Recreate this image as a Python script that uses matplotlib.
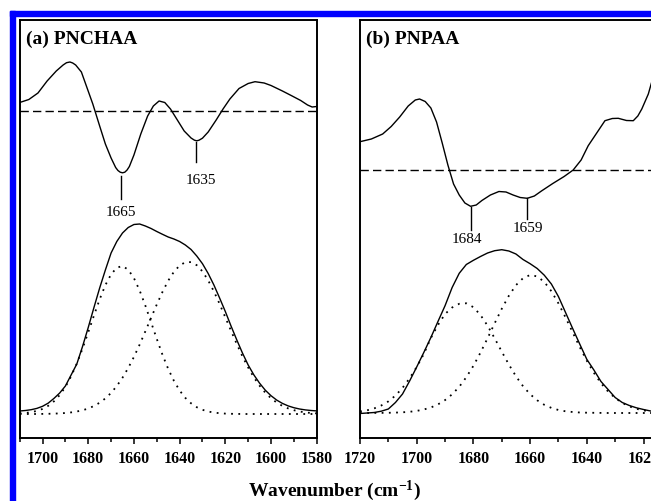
import matplotlib
matplotlib.use("Agg")
import matplotlib.pyplot as plt
from matplotlib.patches import Rectangle
from matplotlib.ticker import MultipleLocator

plt.rcParams['font.family'] = ['Liberation Serif', 'DejaVu Serif']
plt.rcParams['font.weight'] = 'bold'
plt.rcParams['mathtext.fontset'] = 'custom'
plt.rcParams['mathtext.rm'] = 'Liberation Serif:bold'
plt.rcParams['mathtext.it'] = 'Liberation Serif:bold'
plt.rcParams['mathtext.bf'] = 'Liberation Serif:bold'

# ---------------- Panel (a) PNCHAA ----------------
wn_a = [1710, 1707.5, 1705, 1702.5, 1700, 1697.5, 1695, 1692.5, 1690, 1687.5,
        1685, 1682.5, 1680, 1677.5, 1675, 1672.5, 1670, 1667.5, 1665, 1662.5,
        1660, 1657.5, 1655, 1652.5, 1650, 1647.5, 1645, 1642.5, 1640, 1637.5,
        1635, 1632.5, 1630, 1627.5, 1625, 1622.5, 1620, 1617.5, 1615, 1612.5,
        1610, 1607.5, 1605, 1602.5, 1600, 1597.5, 1595, 1592.5, 1590, 1587.5,
        1585, 1582.5, 1580]
a_fit = [27.0, 27.5, 28.3, 29.6, 31.7, 34.9, 39.6, 45.0, 52.0, 63.0,
         74.0, 91.5, 110.5, 130.5, 150.0, 168.0, 185.0, 196.5, 205.0, 210.5,
         213.5, 214.0, 212.0, 209.5, 206.5, 203.7, 201.0, 199.0, 196.5, 193.0,
         188.5, 182.0, 174.3, 164.5, 153.0, 140.0, 126.5, 112.0, 98.2, 85.0,
         73.0, 63.1, 54.8, 47.8, 42.3, 37.9, 34.6, 32.1, 30.3, 29.0,
         28.1, 27.5, 27.1]
a_band1 = [24.5, 25.0, 25.8, 27.1, 29.1, 32.2, 36.7, 42.9, 51.1, 61.7,
           74.5, 89.4, 105.7, 122.5, 138.7, 152.9, 163.7, 170.3, 172.0, 168.3,
           159.9, 147.5, 132.4, 115.8, 99.1, 83.2, 69.1, 57.2, 47.5, 40.1,
           34.7, 30.8, 28.2, 26.5, 25.4, 24.8, 24.4, 24.2, 24.1, 24.0,
           24.0, 24.0, 24.0, 24.0, 24.0, 24.0, 24.0, 24.0, 24.0, 24.0,
           24.0, 24.0, 24.0]
a_band2 = [24.0, 24.0, 24.0, 24.0, 24.1, 24.2, 24.4, 24.6, 25.0, 25.6,
           26.5, 27.7, 29.5, 32.0, 35.3, 39.6, 45.1, 52.0, 60.3, 70.0,
           81.1, 93.4, 106.7, 120.1, 133.5, 146.1, 157.3, 166.2, 172.5, 175.8,
           175.9, 172.8, 166.6, 157.6, 146.6, 134.1, 120.7, 107.2, 94.1, 81.6,
           70.5, 60.6, 52.3, 45.3, 39.8, 35.4, 32.1, 29.6, 27.8, 26.5,
           25.6, 25.0, 24.6]

wn_a_d = [1710, 1706, 1702, 1698, 1694, 1691, 1689.5, 1688, 1686.8, 1685.5,
          1683, 1680.5, 1678, 1675, 1672.5, 1670, 1668, 1667, 1666, 1665,
          1664, 1663, 1662, 1660, 1657, 1654, 1651.5, 1649, 1646.5, 1644,
          1641, 1638, 1635, 1633.5, 1632.5, 1631.5, 1630, 1627.5, 1624, 1621,
          1618, 1614, 1610, 1607, 1603, 1600, 1595, 1591, 1587, 1584,
          1582, 1580]
a_deriv = [335.5, 338.5, 345, 357, 367, 373, 375.3, 376, 375, 373,
           366, 350, 334, 312, 294, 280, 270.5, 267.5, 265.8, 265.2,
           265.8, 268, 271.5, 283, 304, 322, 332, 337, 335.5, 329,
           318, 307, 300, 297.8, 297.2, 297.8, 299.8, 306, 318, 329,
           339, 349.5, 354.5, 356.3, 355, 352.5, 347, 342.3, 337.5, 333,
           331, 331.5]
a_zero = 327
a_mark_x = [1665.7, 1632.8]
a_mark_top = [262, 296.3]
a_mark_bot = [239, 276.3]
a_lbl = ['1665', '1635']
a_lbl_x = [1665.8, 1630.8]
a_lbl_y = [226.5, 258]

# ---------------- Panel (b) PNPAA ----------------
wn_b = [1720, 1717.5, 1715, 1712.5, 1710, 1707.5, 1705, 1702.5, 1700, 1697.5,
        1695, 1692.5, 1690, 1687.5, 1685, 1682.5, 1680, 1677.5, 1675, 1672.5,
        1670, 1667.5, 1665, 1662.5, 1660, 1657.5, 1655, 1652.5, 1650, 1647.5,
        1645, 1642.5, 1640, 1637.5, 1635, 1632.5, 1630, 1627.5, 1625, 1622.5,
        1620, 1617.5, 1615, 1612.5, 1610, 1607.5, 1605, 1602.5, 1600]
b_fit = [24.5, 25.0, 25.5, 26.8, 29.0, 35.5, 44.0, 57.0, 71.0, 85.5,
         100.5, 116.5, 132.3, 150.5, 164.7, 173.5, 177.7, 181.5, 185.0, 187.3,
         188.3, 187.0, 184.0, 178.5, 174.3, 169.5, 162.8, 154.0, 141.4, 125.5,
         109.6, 94.0, 78.7, 68.0, 56.5, 48.5, 40.5, 35.5, 32.5, 30.2,
         28.5, 27.0, 26.2, 25.6, 25.3, 25.2, 25.1, 25.0, 25.0]
b_band1 = [26.6, 27.7, 29.6, 32.5, 36.6, 42.4, 50.1, 59.7, 71.0, 84.0,
           100.0, 113.0, 124.0, 130.5, 134.2, 134.7, 130.8, 123.0, 112.3, 99.7,
           86.4, 73.5, 61.8, 51.8, 43.8, 37.7, 33.2, 30.1, 28.0, 26.7,
           26.0, 25.5, 25.3, 25.2, 25.1, 25.0, 25.0, 25.0, 25.0, 25.0,
           25.0, 25.0, 25.0, 25.0, 25.0, 25.0, 25.0, 25.0, 25.0]
b_band2 = [25.0, 25.0, 25.1, 25.1, 25.2, 25.4, 25.7, 26.2, 27.1, 28.5,
           30.5, 33.6, 37.9, 43.7, 51.2, 60.8, 72.2, 85.4, 99.8, 114.7,
           129.2, 142.2, 152.8, 159.8, 163.0, 161.6, 156.1, 146.8, 134.6, 120.6,
           105.7, 91.0, 77.3, 65.2, 54.8, 46.5, 40.0, 35.1, 31.6, 29.2,
           27.6, 26.5, 25.9, 25.5, 25.3, 25.2, 25.1, 25.0, 25.0]

wn_b_d = [1720, 1716, 1712, 1709, 1706, 1703, 1700.5, 1699, 1697, 1695,
          1693, 1691, 1689, 1687, 1685, 1683, 1681, 1679, 1677, 1674,
          1671, 1668.5, 1666, 1663.5, 1661, 1658.5, 1656, 1652, 1648, 1644.8,
          1642, 1639.5, 1636.5, 1633.6, 1631, 1628.9, 1626, 1623.6, 1622, 1620.6,
          1618.3, 1616.5, 1615]
b_deriv = [296.3, 299, 304, 311.5, 321, 332, 338, 339, 336.5, 330,
           316, 295, 273, 254, 243, 235, 231.7, 233, 237.5, 243,
           246.5, 246, 243, 240.5, 239.7, 242, 247, 254.5, 261.5, 268,
           278, 292.3, 305, 317.3, 319.5, 319.7, 317.5, 317.3, 322, 329,
           344, 362, 380]
b_zero = 268
b_mark_x = [1681.0, 1661.2]
b_mark_top = [231, 239.7]
b_mark_bot = [208, 219]
b_lbl = ['1684', '1659']
b_lbl_x = [1682.4, 1660.9]
b_lbl_y = [199.5, 211]

W, H = 651, 502
fig = plt.figure(figsize=(W / 100, H / 100), dpi=100)

# blue frame fragments
blue = '#0000ff'
fig.patches.append(Rectangle((10 / W, (H - 16.7) / H), 1 - 10 / W, 4.4 / H,
                             transform=fig.transFigure, color=blue, zorder=0))
fig.patches.append(Rectangle((10 / W, 0), 5 / W, (H - 12.3) / H,
                             transform=fig.transFigure, color=blue, zorder=0))

bottom = (H - 439) / H
height = 418 / H
ax_a = fig.add_axes([19.7 / W, bottom, 297 / W, height])
ax_b = fig.add_axes([360 / W, bottom, 340.2 / W, height])

dot = (0, (1.0, 3.0))
dash = (0, (6.0, 3.0))


def draw(ax, wn, fit, b1, b2, wnd, der, zero, xlim, mx, mtop, mbot, lbl, lx, ly, title):
    ax.plot(wn, fit, color='black', lw=1.0, solid_joinstyle='round')
    ax.plot(wn, b1, color='black', lw=1.3, linestyle=dot)
    ax.plot(wn, b2, color='black', lw=1.3, linestyle=dot)
    ax.plot(wnd, der, color='black', lw=1.0, solid_joinstyle='round')
    ax.plot(xlim, [zero, zero], color='black', lw=1.0, linestyle=dash)
    for x, t, b in zip(mx, mtop, mbot):
        ax.plot([x, x], [t, b], color='black', lw=1.0)
    for s, x, y in zip(lbl, lx, ly):
        ax.text(x, y, s, ha='center', va='center', fontsize=11, fontweight='normal')
    ax.set_xlim(*xlim)
    ax.set_ylim(0, 418)
    ax.set_yticks([])
    ax.xaxis.set_major_locator(MultipleLocator(20))
    ax.xaxis.set_minor_locator(MultipleLocator(10))
    ax.tick_params(axis='x', which='major', direction='out', length=4.5, width=1.1,
                   labelsize=11.5, pad=4)
    ax.tick_params(axis='x', which='minor', direction='out', length=3, width=1.1)
    for sp in ax.spines.values():
        sp.set_linewidth(1.4)
    ax.annotate(title, xy=(0, 1), xycoords='axes fraction', xytext=(6, -22.5),
                textcoords='offset pixels', ha='left', va='baseline',
                fontsize=14, fontweight='bold')


draw(ax_a, wn_a, a_fit, a_band1, a_band2, wn_a_d, a_deriv, a_zero, (1710, 1580),
     a_mark_x, a_mark_top, a_mark_bot, a_lbl, a_lbl_x, a_lbl_y, '(a) PNCHAA')
draw(ax_b, wn_b, b_fit, b_band1, b_band2, wn_b_d, b_deriv, b_zero, (1720, 1600),
     b_mark_x, b_mark_top, b_mark_bot, b_lbl, b_lbl_x, b_lbl_y, '(b) PNPAA')

fig.text(334 / W, (H - 491) / H, r'Wavenumber (cm$^{-1}$)', ha='center', va='center',
         fontsize=14, fontweight='bold')

fig.savefig('out.png', dpi=100)
